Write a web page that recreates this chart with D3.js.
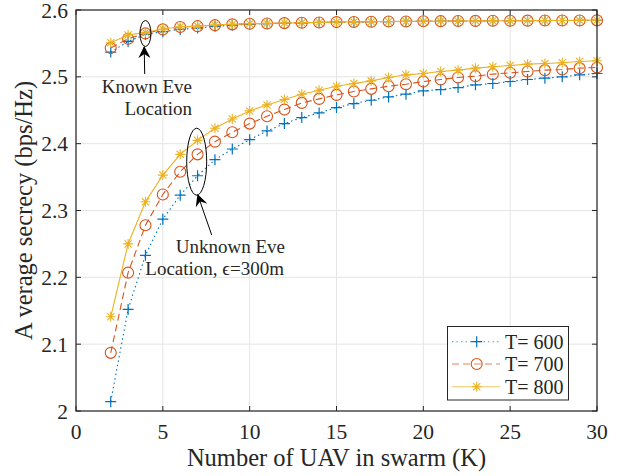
<!DOCTYPE html>
<html>
<head>
<meta charset="utf-8">
<script src="https://cdn.jsdelivr.net/npm/d3@7"></script>
<style>
  body { margin: 0; background: #fff; }
  text { font-family: "Liberation Serif", "Times New Roman", serif; fill: #262626; }
</style>
</head>
<body>
<script>
// number of UAVs in the swarm
var K = [2,3,4,5,6,7,8,9,10,11,12,13,14,15,16,17,18,19,20,21,22,23,24,25,26,27,28,29,30];

// known Eve location (upper curves)
var knownT600 = [2.537,2.553,2.5635,2.5675,2.571,2.573,2.5755,2.5772,2.5785,2.5795,2.5802,2.5808,2.5813,2.5818,2.5821,2.5824,2.5827,2.5829,2.5831,2.5833,2.5835,2.5837,2.5839,2.5839,2.5841,2.5842,2.5843,2.5844,2.5845];
var knownT700 = [2.543,2.557,2.565,2.571,2.5745,2.5758,2.5773,2.5785,2.5794,2.5799,2.5804,2.5809,2.5814,2.5819,2.5821,2.5824,2.5827,2.5829,2.5831,2.5833,2.5835,2.5837,2.5839,2.5839,2.5841,2.5842,2.5843,2.5844,2.5845];
var knownT800 = [2.551,2.5625,2.5665,2.5715,2.575,2.576,2.5775,2.5786,2.5795,2.58,2.5805,2.581,2.5815,2.582,2.5822,2.5825,2.5828,2.583,2.5832,2.5834,2.5836,2.5838,2.584,2.584,2.5842,2.5843,2.5844,2.5845,2.5846];

// unknown Eve location, eps = 300 m (lower curves)
var unknownT600 = [2.014,2.152,2.233,2.287,2.323,2.352,2.376,2.392,2.406,2.419,2.430,2.439,2.446,2.454,2.460,2.465,2.470,2.474,2.479,2.481,2.484,2.488,2.490,2.493,2.496,2.498,2.500,2.503,2.505];
var unknownT700 = [2.087,2.207,2.278,2.324,2.358,2.384,2.403,2.417,2.430,2.441,2.451,2.461,2.467,2.473,2.478,2.482,2.486,2.489,2.493,2.496,2.499,2.501,2.504,2.506,2.508,2.510,2.511,2.513,2.514];
var unknownT800 = [2.141,2.250,2.313,2.353,2.384,2.405,2.423,2.437,2.449,2.458,2.466,2.474,2.480,2.486,2.490,2.494,2.499,2.503,2.505,2.508,2.510,2.513,2.515,2.517,2.519,2.520,2.521,2.523,2.524];

var seriesNames = ["T= 600", "T= 700", "T= 800"];
var xTicks = [0,5,10,15,20,25,30];
var yTicks = [2,2.1,2.2,2.3,2.4,2.5,2.6];

var width = 626, height = 476;
var pLeft = 76, pRight = 597, pTop = 10, pBottom = 411;

var svg = d3.select("body").append("svg")
    .attr("width", width)
    .attr("height", height);

var x = d3.scaleLinear().domain([0, 30]).range([pLeft, pRight]);
var y = d3.scaleLinear().domain([2, 2.6]).range([pBottom, pTop]);

// grid
svg.append("g").selectAll("line")
    .data(xTicks).enter().append("line")
    .attr("x1", function(d) { return x(d); }).attr("x2", function(d) { return x(d); })
    .attr("y1", pTop).attr("y2", pBottom)
    .attr("stroke", "#e5e5e5").attr("stroke-width", 1);
svg.append("g").selectAll("line")
    .data(yTicks).enter().append("line")
    .attr("x1", pLeft).attr("x2", pRight)
    .attr("y1", function(d) { return y(d); }).attr("y2", function(d) { return y(d); })
    .attr("stroke", "#e5e5e5").attr("stroke-width", 1);

var styles = [
  {color: "#0072BD", dash: "1.5,3", marker: "plus"},
  {color: "#D95319", dash: "7,4", marker: "circle"},
  {color: "#EDB120", dash: null, marker: "star"}
];

function drawMarker(g, type, color) {
  if (type == "plus") {
    g.append("path").attr("d", "M-5.5,0H5.5M0,-5.5V5.5")
      .attr("stroke", color).attr("stroke-width", 1.2).attr("fill", "none");
  } else if (type == "circle") {
    g.append("circle").attr("r", 5.5)
      .attr("stroke", color).attr("stroke-width", 1.1).attr("fill", "none");
  } else {
    g.append("path").attr("d", "M-5,0H5M0,-5V5M-3.6,-3.6L3.6,3.6M-3.6,3.6L3.6,-3.6")
      .attr("stroke", color).attr("stroke-width", 1.1).attr("fill", "none");
  }
}

var line = d3.line()
    .x(function(d) { return x(d[0]); })
    .y(function(d) { return y(d[1]); });

var allSeries = [
  [knownT600, unknownT600],
  [knownT700, unknownT700],
  [knownT800, unknownT800]
];

allSeries.forEach(function(pair, i) {
  var st = styles[i];
  pair.forEach(function(vals) {
    var pts = K.map(function(k, j) { return [k, vals[j]]; });
    svg.append("path")
      .attr("d", line(pts))
      .attr("fill", "none")
      .attr("stroke", st.color)
      .attr("stroke-width", 1.1)
      .attr("stroke-dasharray", st.dash);
    svg.append("g").selectAll("g")
      .data(pts).enter().append("g")
      .attr("transform", function(d) { return "translate(" + x(d[0]) + "," + y(d[1]) + ")"; })
      .each(function() { drawMarker(d3.select(this), st.marker, st.color); });
  });
});

// axes box with inward ticks on all sides
var axisColor = "#262626";
svg.append("rect")
    .attr("x", pLeft).attr("y", pTop)
    .attr("width", pRight - pLeft).attr("height", pBottom - pTop)
    .attr("fill", "none").attr("stroke", axisColor).attr("stroke-width", 1.2);

var tl = 5;
xTicks.forEach(function(t) {
  svg.append("line").attr("x1", x(t)).attr("x2", x(t)).attr("y1", pBottom).attr("y2", pBottom - tl).attr("stroke", axisColor);
  svg.append("line").attr("x1", x(t)).attr("x2", x(t)).attr("y1", pTop).attr("y2", pTop + tl).attr("stroke", axisColor);
  svg.append("text").attr("x", x(t)).attr("y", 439)
    .attr("text-anchor", "middle").attr("font-size", 21.5).text(t);
});
yTicks.forEach(function(t) {
  svg.append("line").attr("x1", pLeft).attr("x2", pLeft + tl).attr("y1", y(t)).attr("y2", y(t)).attr("stroke", axisColor);
  svg.append("line").attr("x1", pRight).attr("x2", pRight - tl).attr("y1", y(t)).attr("y2", y(t)).attr("stroke", axisColor);
  svg.append("text").attr("x", 68).attr("y", y(t) + 7.5)
    .attr("text-anchor", "end").attr("font-size", 21.5).text(d3.format(t == 2 ? "d" : ".1f")(t));
});

// axis labels
svg.append("text")
    .attr("x", (pLeft + pRight) / 2).attr("y", 466)
    .attr("text-anchor", "middle").attr("font-size", 24.5)
    .text("Number of UAV in swarm (K)");
svg.append("text")
    .attr("transform", "translate(32," + ((pTop + pBottom) / 2) + ") rotate(-90)")
    .attr("text-anchor", "middle").attr("font-size", 24.5)
    .text("A verage secrecy (bps/Hz)");

// annotations
svg.append("defs").append("marker")
    .attr("id", "arrow").attr("viewBox", "0 0 12 12")
    .attr("refX", 11).attr("refY", 6)
    .attr("markerWidth", 12).attr("markerHeight", 12)
    .attr("markerUnits", "userSpaceOnUse")
    .attr("orient", "auto")
  .append("path").attr("d", "M0,0L12,6L0,12L4,6Z").attr("fill", "#000");

svg.append("ellipse").attr("cx", x(4)).attr("cy", 33.5).attr("rx", 5.5).attr("ry", 13)
    .attr("fill", "none").attr("stroke", "#000").attr("stroke-width", 1);
svg.append("line").attr("x1", 144.7).attr("y1", 74).attr("x2", 144.2).attr("y2", 47)
    .attr("stroke", "#000").attr("stroke-width", 1).attr("marker-end", "url(#arrow)");
svg.append("text").attr("x", 192).attr("y", 93).attr("text-anchor", "end")
    .attr("font-size", 19).attr("fill", "#000").text("Known Eve");
svg.append("text").attr("x", 192).attr("y", 115).attr("text-anchor", "end")
    .attr("font-size", 19).attr("fill", "#000").text("Location");

svg.append("ellipse").attr("cx", 196.7).attr("cy", 161.7).attr("rx", 10).attr("ry", 33.5)
    .attr("fill", "none").attr("stroke", "#000").attr("stroke-width", 1);
svg.append("line").attr("x1", 211.7).attr("y1", 235).attr("x2", 197.8).attr("y2", 195)
    .attr("stroke", "#000").attr("stroke-width", 1).attr("marker-end", "url(#arrow)");
svg.append("text").attr("x", 285).attr("y", 253).attr("text-anchor", "end")
    .attr("font-size", 19).attr("fill", "#000").text("Unknown Eve");
svg.append("text").attr("x", 284).attr("y", 275).attr("text-anchor", "end")
    .attr("font-size", 19).attr("fill", "#000").text("Location, \u03f5=300m");

// legend
var lg = svg.append("g");
lg.append("rect").attr("x", 447.5).attr("y", 326.5).attr("width", 121).attr("height", 73.5)
    .attr("fill", "#fff").attr("stroke", axisColor).attr("stroke-width", 1);
var rowY = [341.7, 364, 386.7];
seriesNames.forEach(function(name, i) {
  var st = styles[i];
  lg.append("line").attr("x1", 452).attr("x2", 500).attr("y1", rowY[i]).attr("y2", rowY[i])
    .attr("stroke", st.color).attr("stroke-width", 1.1).attr("stroke-dasharray", st.dash)
    .attr("opacity", 0.7);
  drawMarker(lg.append("g").attr("transform", "translate(476.7," + rowY[i] + ")"), st.marker, st.color);
  lg.append("text").attr("x", 505).attr("y", rowY[i] + 7)
    .attr("font-size", 20).attr("fill", "#000").text(name);
});
</script>
</body>
</html>
